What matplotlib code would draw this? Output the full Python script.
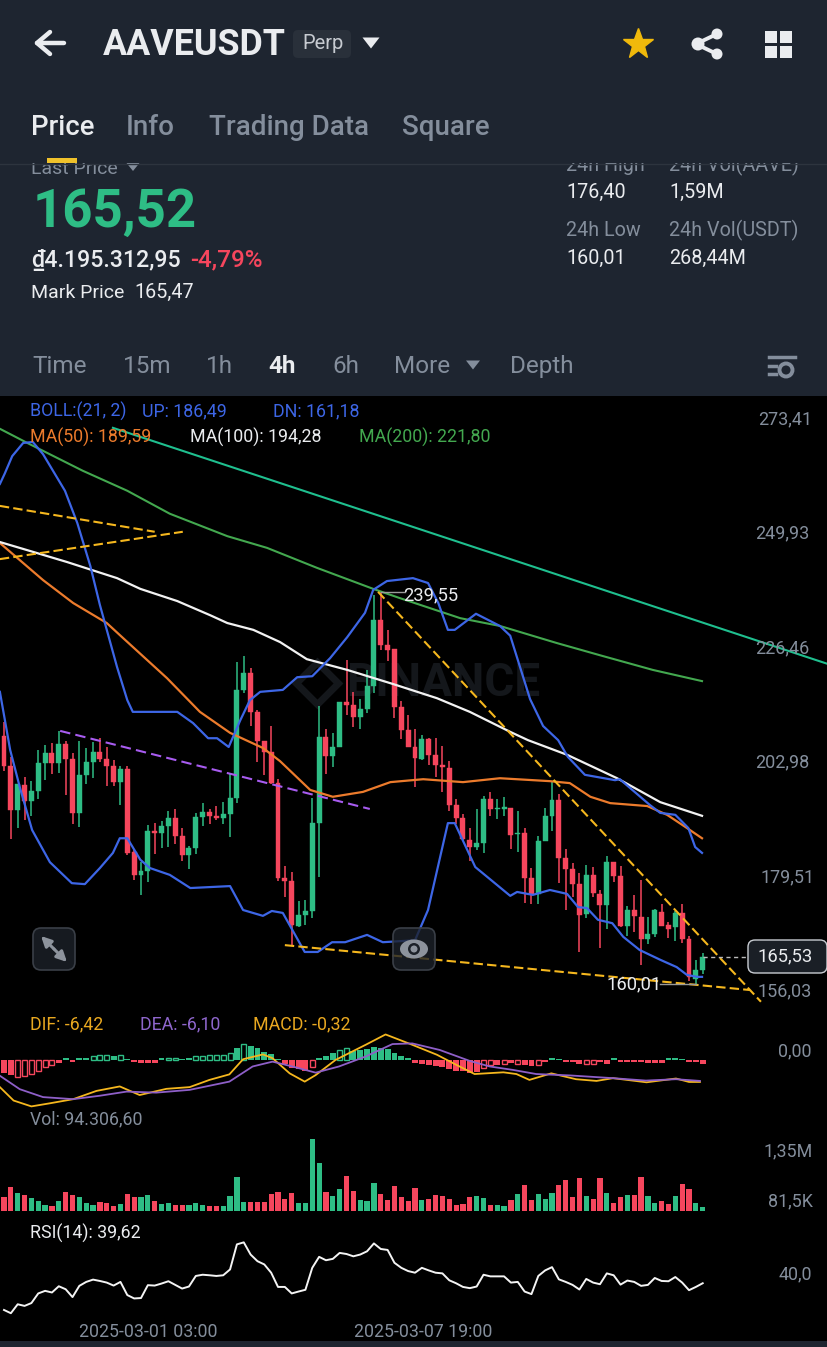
import matplotlib
matplotlib.use('Agg')
import matplotlib.pyplot as plt
import numpy as np
from matplotlib.patches import Rectangle, FancyBboxPatch, Circle, Ellipse, Polygon

plt.rcParams['font.family'] = ['Roboto', 'DejaVu Sans']

# candles, one per 4h
open_ = [208.5,202.4,193.3,198.5,195.2,197.2,203.0,205.0,202.9,206.9,203.7,192.7,200.4,203.2,205.2,203.7,202.3,199.1,201.7,184.7,
         180.0,180.7,188.9,188.5,190.0,191.6,187.9,184.1,185.6,191.8,192.9,192.1,191.7,192.4,195.7,217.8,221.3,213.3,207.5,205.2,
         198.9,179.3,178.7,169.5,171.7,172.6,190.7,208.2,204.4,206.1,215.4,214.8,212.3,214.0,218.7,232.2,227.1,226.2,214.4,209.7,
         206.3,203.7,207.8,204.6,202.5,201.9,194.4,191.7,187.1,185.8,186.6,195.5,193.5,193.5,193.6,188.3,188.5,179.4,176.0,187.0,
         192.0,195.3,183.5,181.1,178.2,171.9,179.9,176.1,173.8,182.6,179.8,169.6,172.7,171.4,166.8,167.8,172.4,169.7,169.3,172.1,
         166.8,158.6,160.5]
high = [211.3,204.2,198.6,200.1,199.2,205.6,206.7,207.0,209.5,207.5,204.9,207.5,206.0,207.2,208.0,206.2,203.5,202.4,202.4,185.4,
        182.7,190.3,190.7,191.1,193.1,193.5,189.7,186.0,192.7,194.8,193.4,194.1,195.0,200.8,223.7,224.8,222.4,213.8,207.5,210.5,
        199.6,181.8,180.5,174.7,174.8,195.7,214.7,209.8,209.1,215.5,224.1,217.4,216.0,221.9,237.3,238.0,230.2,226.2,215.6,212.8,
        209.9,208.6,208.0,208.1,206.5,203.3,195.5,192.4,189.5,193.4,196.1,197.0,195.5,195.9,193.6,193.1,189.5,181.4,187.9,193.8,
        199.3,196.5,185.4,182.5,180.4,182.1,181.6,176.9,183.8,182.6,181.9,173.6,175.8,178.9,171.4,173.0,174.0,170.4,172.6,174.1,
        167.4,162.6,163.9]
low = [201.3,187.3,189.5,191.2,192.0,195.5,199.4,200.7,200.8,196.3,190.5,189.9,198.7,199.9,203.2,198.3,198.2,194.4,184.1,178.9,
       175.9,178.5,184.3,185.6,185.8,186.4,182.8,181.1,184.3,190.1,190.4,191.2,190.5,187.8,194.8,217.2,210.5,203.2,200.4,198.6,
       178.8,175.4,165.6,169.4,169.7,171.1,179.5,200.6,202.0,206.1,212.7,210.3,209.9,213.2,217.3,226.1,223.8,212.2,207.8,206.1,
       198.0,203.5,202.5,200.0,197.0,193.0,190.5,187.1,182.8,185.1,184.4,192.1,191.4,192.0,185.4,184.7,174.3,174.1,174.1,186.9,
       189.0,178.4,172.9,175.5,164.2,171.2,175.4,165.1,168.9,178.6,169.4,167.4,168.3,161.5,165.8,167.2,169.6,167.1,166.5,166.1,
       158.2,157.7,159.7]
close = [202.4,193.3,198.6,195.2,197.1,203.0,205.0,202.9,206.9,203.7,192.7,200.4,203.2,205.2,203.7,202.4,199.1,201.7,184.5,180.0,
         180.7,189.0,188.5,190.0,191.6,187.9,184.1,185.6,191.8,192.8,192.1,191.6,192.4,195.7,217.8,221.3,213.4,207.5,205.2,198.9,
         179.3,178.8,169.7,171.7,172.6,190.7,208.2,204.4,206.1,215.5,214.8,212.3,214.0,218.7,232.2,227.1,226.1,214.4,209.7,206.3,
         203.9,207.8,204.6,202.5,202.0,194.4,191.6,187.3,185.8,186.6,195.5,193.5,193.8,194.0,188.1,188.5,179.4,176.0,187.0,192.0,
         195.3,183.5,181.2,178.2,171.7,179.9,176.2,173.8,182.6,179.8,169.5,172.7,171.5,166.8,167.8,172.7,169.6,169.0,172.1,166.8,
         159.0,160.5,163.2]

# volume in thousands
volume = [338,609,448,397,321,245,152,127,237,482,397,338,195,144,220,186,127,178,431,347,
          347,389,254,169,186,135,152,152,203,152,118,118,118,372,846,211,228,228,228,414,
          465,296,440,186,186,1818,1201,482,381,541,888,491,271,237,702,423,271,634,338,254,
          584,271,288,389,372,288,152,169,355,381,313,144,144,127,271,414,651,279,423,288,
          448,651,778,355,837,364,288,837,440,195,355,389,389,863,372,186,237,178,364,677,
          541,203,94.3]

macd_hist = [-3.9,-4.5,-5.0,-4.8,-4.1,-3.3,-2.1,-1.5,-1.0,0.7,-0.5,0.7,0.7,1.2,1.5,1.5,1.2,1.5,0.3,-0.5,
             -0.8,-1.0,-1.0,0.7,0.7,0.7,0.3,0.7,1.0,1.2,1.5,1.5,1.5,1.9,3.4,4.5,4.1,3.6,2.4,1.7,
             0.2,-1.2,-2.4,-2.7,-3.1,-2.1,0.7,1.2,1.9,2.9,3.4,2.7,2.9,3.1,3.9,3.4,3.1,2.1,1.0,0.5,
             -1.0,-1.1,-1.5,-1.9,-2.1,-2.6,-3.1,-3.3,-3.7,-3.5,-2.4,-1.6,-1.5,-1.2,-0.8,-1.3,-1.5,-1.9,-1.5,-0.7,
             0.7,0.3,-0.6,-0.7,-1.1,-1.1,-1.1,-0.7,-1.1,0.7,-0.7,-0.5,-0.5,-0.5,-1.0,-1.0,-1.0,0.7,0.7,0.3,
             -0.6,-0.7,-1.1]
hollow_bars = [2,3,4,5,6,7,13,14,15,17,24,25,28,29,30,31,32,33,35,45,49,50,70,71,73,75,78,85,86]

rsi = [19.9,17.5,24.1,22.9,25.0,32.1,34.0,32.8,37.4,35.2,29.4,37.7,40.6,42.3,41.3,40.1,37.9,40.6,30.9,28.4,
       28.7,38.2,37.9,39.4,41.1,38.4,35.7,37.2,45.0,45.9,45.5,45.0,45.5,49.8,68.3,69.8,60.8,55.9,53.5,47.4,
       36.9,36.9,32.1,33.5,34.8,51.0,59.1,56.6,57.6,62.0,61.2,59.5,60.8,63.2,69.0,64.9,64.2,54.7,51.0,48.6,
       47.4,51.0,49.1,47.4,46.9,41.8,39.6,36.9,36.0,37.2,45.9,44.7,44.7,44.7,40.1,40.6,33.5,31.6,45.0,49.1,
       51.5,42.5,40.6,38.4,35.0,42.8,40.1,38.9,46.9,45.5,38.6,41.6,40.6,37.7,38.4,43.5,41.3,41.1,44.2,40.1,
       34.5,36.9,39.62]

# indicator lines, read at the bends (candle index, value)
boll_up_x = [-0.6,0.1,1.2,2.8,4.2,5.7,8.9,10.7,12.6,14,16.5,18,18.8,21.3,25.3,27.6,29.8,31.1,32.8,34.5,35.9,37.4,40.7,42.8,45,47.6,50.1,52.7,53.9,55.9,59.7,61.9,63.4,64.8,65.8,68.9,72.4,73.9,76.8,78.7,80.9,82.3,84.8,89.2,89.9,94.3,95.8,98,99.9,100.9,101.9]
boll_up = [260.1,262.2,265.8,268.5,268.7,266.2,258.7,252.1,243.3,235.3,222.6,215.8,213.4,213.4,213.4,211.1,208.0,208.0,206.2,211.7,215.8,217.5,217.9,220.5,220.7,224.4,228.7,233.7,238.4,240.2,240.8,239.8,235.7,230.2,230.2,233.5,231.0,229.0,216.0,210.5,207.6,204.2,200.5,199.4,199.6,194.3,192.7,192.3,189.6,185.7,184.5]
boll_dn_x = [-0.6,0.9,2.3,4.1,6.7,9.9,11.8,14,15.9,16.9,18,19.9,21.3,24.2,27.2,30.1,33,34.9,37.8,39.1,40.7,43.9,45.8,47.9,49.8,53,55.3,60,61.9,64.8,65.8,68.8,73.9,74.9,77.2,79.7,82.2,83.8,85.1,86.7,88.8,90.4,92.8,95.8,98.2,99.7,101.2,101.9]
boll_dn = [217.5,205.6,198.0,189.2,182.6,178.3,178.1,181.4,184.5,187.5,187.5,183.1,181.4,180.0,177.3,177.5,177.7,172.8,171.6,172.6,172.2,164.2,164.2,166.2,166.2,167.7,166.2,166.6,172.8,190.6,190.6,181.6,175.7,176.5,175.9,176.9,176.1,173.4,173.2,170.8,170.1,167.3,164.6,162.6,161.1,159.5,159.1,159.1]
ma50_x = [-0.6,2.3,5.7,10.1,15,17.4,23.8,28.6,33,37.8,40.3,44.7,48,52.4,56.4,61.2,67,72.4,79.7,82.6,85.6,88.5,93.9,96.8,99.7,101.9]
ma50 = [248.0,244.5,240.4,235.7,231.6,228.5,220.3,213.4,209.1,206.0,203.3,197.4,196.0,197.0,199.0,199.6,199.0,199.8,199.2,198.8,196.0,194.7,194.1,192.3,189.6,187.5]
ma100_x = [-0.6,4.2,9.2,16.5,19.9,25.3,30.1,32.6,36.4,40.3,44.2,50.1,56.8,63.2,68,73.9,76.5,82.2,89.5,95.8,101.9]
ma100 = [248.2,246.2,244.1,240.8,238.6,236.1,233.2,231.6,230.2,227.7,224.2,222.0,219.1,216.2,213.4,209.3,207.6,204.6,199.8,194.9,192.1]
ma200_x = [-0.6,3.4,11.5,18,24.2,32.6,38.4,45.7,53.9,57.8,66.6,72.4,80.7,87,94.7,101.9]
ma200 = [271.4,268.5,262.8,258.7,254.0,249.4,247.0,242.9,238.6,236.7,232.6,231.0,227.5,225.0,222.0,219.7]
dif_x = [-0.6,1.4,4,6.7,10.1,13.5,16.9,19.8,23.7,27.1,30,32.9,34.9,37.8,39.2,41.7,43.9,45.5,48.4,52.8,55.7,59.6,63.2,66.1,68.7,72.9,74.8,76.7,79.9,83.5,86.5,88.9,93.8,98.1,100,101.6]
dif = [-7.9,-11.8,-13.5,-12.6,-11.4,-9.0,-7.7,-10.2,-8.4,-7.9,-5.8,-4.2,0.2,1.6,0.5,-3.9,-6.3,-4.4,0.0,4.4,7.4,4.4,1.5,-1.5,-4.1,-3.6,-4.1,-5.8,-3.9,-5.6,-6.1,-5.3,-6.5,-5.4,-6.4,-6.4]
dea_x = [-0.6,2.3,5.7,10.1,14,17.9,22.2,27.1,32.9,36.3,39.2,42.1,45.5,48.9,52.8,56.7,59.6,63.6,68,70.9,74.3,77.7,82.6,88.9,93.7,98.1,101.6]
dea = [-4.6,-8.5,-10.8,-11.4,-10.4,-9.2,-9.5,-8.7,-6.3,-1.9,-0.5,-1.9,-3.7,-1.9,1.0,4.6,4.8,2.9,-0.3,-1.9,-2.9,-4.1,-4.5,-5.3,-6.0,-5.6,-6.1]

# drawn trend lines (x0, x1), (y0, y1)
green_trend = ([15.9, 120.3], [271.6, 223.2])
yellow_a = ([-0.6, 22], [255.6, 250.3])
yellow_b = ([-0.6, 26.1], [244.7, 250.3])
yellow_c = ([54.6, 110.5], [238.0, 154.0])
yellow_d = ([41, 108.9], [165.6, 156.4])
purple_trend = ([8.2, 53.4], [209.5, 193.5])

price_ticks = [273.41, 249.93, 226.46, 202.98, 179.51, 156.03]
price_labels = ['273,41', '249,93', '226,46', '202,98', '179,51', '156,03']

BG = '#1E2530'
GREEN = '#2EBD85'
RED = '#F6465D'
GREY = '#848E9C'
WHITE = '#EAECEF'
BLUE = '#3D66E6'
ORANGE = '#EC7B2C'
MA200_C = '#43A84F'
YELLOW = '#F5B71E'
PURPLE = '#A85CF0'

W, H = 828, 1347
fig = plt.figure(figsize=(W / 100, H / 100), dpi=100, facecolor=BG)

# overlay in pixel coordinates for the app chrome and labels
ui = fig.add_axes([0, 0, 1, 1], zorder=5)
ui.set_xlim(0, W)
ui.set_ylim(H, 0)
ui.axis('off')
ui.patch.set_alpha(0)

under = fig.add_axes([0, 0, 1, 1], zorder=0)
under.set_xlim(0, W)
under.set_ylim(H, 0)
under.axis('off')
under.add_patch(Rectangle((0, 396), W, 945, fc='black', ec='none'))


def panel(top, bottom, y0, y1):
    a = fig.add_axes([0, 1 - bottom / H, 1, (bottom - top) / H], zorder=2)
    a.patch.set_alpha(0)
    a.axis('off')
    a.set_xlim(-0.584, 120.29)
    a.set_ylim(y0, y1)
    return a


colors = [GREEN if c >= o else RED for o, c in zip(open_, close)]
idx = np.arange(len(close))

# price panel
ax = panel(396, 1010, 152.31, 278.12)
ax.vlines(idx, low, high, colors=colors, lw=1.1, zorder=2)
bottoms = np.minimum(open_, close)
heights = np.abs(np.array(close) - np.array(open_))
ax.bar(idx, heights, bottom=bottoms, width=0.72, color=colors, ec=colors, lw=0.3, zorder=3)

ax.plot(boll_up_x, boll_up, color=BLUE, lw=1.6, zorder=5)
ax.plot(boll_dn_x, boll_dn, color=BLUE, lw=1.6, zorder=5)
ax.plot(ma50_x, ma50, color=ORANGE, lw=1.6, zorder=4)
ax.plot(ma100_x, ma100, color='#F2F2F2', lw=1.6, zorder=4)
ax.plot(ma200_x, ma200, color=MA200_C, lw=1.5, zorder=4)

ax.plot(*green_trend, color='#1FBF8F', lw=1.5, zorder=6)
for line in [yellow_a, yellow_b, yellow_c, yellow_d]:
    ax.plot(*line, color=YELLOW, lw=1.5, dashes=(4.5, 2), zorder=6)
ax.plot(*purple_trend, color=PURPLE, lw=1.5, dashes=(5, 2.5), zorder=6)

# high / low leaders and last price guide
ax.plot([55, 58.6], [high[55], high[55]], color='#9A9A9A', lw=1.0, zorder=6)
ax.plot([95.8, 101], [low[101], low[101]], color='#9A9A9A', lw=1.0, zorder=6)
ax.plot([102, 108.6], [close[-1], close[-1]], color='#BBBBBB', lw=1.0, dashes=(3, 2.5), zorder=6)

# watermark
ax.text(50.0, 219.3, 'BINANCE', color='#14171B', fontsize=33, fontweight='bold', va='center', ha='left', zorder=1)
ax.plot([45.7], [219.3], marker='D', ms=21, mfc='none', mec='#14171B', mew=5, zorder=1)

tick_x = [114, 113.6, 113.6, 113.6, 114.4, 114]
for x, v, lab in zip(tick_x, price_ticks, price_labels):
    ax.text(x, v, lab, color=GREY, fontsize=13, ha='center', va='center', zorder=7)

# macd panel
mc = panel(1020, 1115, -16.0, 11.6)
for i, v in enumerate(macd_hist):
    c = GREEN if v >= 0 else RED
    if i in hollow_bars:
        mc.bar(i, v, width=0.72, facecolor='none', edgecolor=c, lw=1.0, zorder=2)
    else:
        mc.bar(i, v, width=0.86, color=c, lw=0, zorder=2)
mc.plot(dif_x, dif, color=YELLOW, lw=1.3, zorder=3)
mc.plot(dea_x, dea, color='#8E5FC8', lw=1.3, zorder=4)

# volume panel
vol = panel(1130, 1210.7, 0, 2047)
vol.bar(idx, volume, width=0.76, color=colors, lw=0)

# rsi panel
rs = panel(1225, 1341, -3.0, 82.6)
rs.plot(idx, rsi, color='#F4F4F4', lw=1.4)


# chart labels
def t(x, y, s, color=WHITE, size=12, weight='normal', ha='left', z=10):
    ui.text(x, y + size * 0.13, s, color=color, fontsize=size, fontweight=weight, ha=ha, va='center', zorder=z)


def tri(x, y, w, h, color, z=10):
    ui.add_patch(Polygon([(x - w / 2, y - h / 2), (x + w / 2, y - h / 2), (x, y + h / 2)], fc=color, ec='none', zorder=z))


t(30, 410, 'BOLL:(21, 2)', BLUE, 12.8)
t(142, 410, 'UP: 186,49', BLUE, 12.8)
t(273, 410, 'DN: 161,18', BLUE, 12.8)
t(30, 436, 'MA(50): 189,59', ORANGE, 12.8)
t(190, 436, 'MA(100): 194,28', WHITE, 12.8)
t(359, 436, 'MA(200): 221,80', MA200_C, 12.8)
t(403, 594, '239,55', WHITE, 13.2)
t(607, 983, '160,01', WHITE, 13.2)
t(30, 1023, 'DIF: -6,42', '#E9A820', 12.8)
t(140, 1023, 'DEA: -6,10', '#8E66CC', 12.8)
t(253, 1023, 'MACD: -0,32', '#E9A820', 12.8)
t(812, 1050, '0,00', GREY, 12.9, ha='right')
t(30, 1118, 'Vol: 94.306,60', GREY, 12.8)
t(813, 1150, '1,35M', GREY, 12.9, ha='right')
t(813, 1200, '81,5K', GREY, 12.9, ha='right')
t(30, 1232, 'RSI(14): 39,62', WHITE, 12.8)
t(812, 1273, '40,0', GREY, 12.9, ha='right')
t(148, 1330, '2025-03-01 03:00', GREY, 12.8, ha='center')
t(423, 1330, '2025-03-07 19:00', GREY, 12.8, ha='center')

# last price tag
ui.add_patch(FancyBboxPatch((748, 940), 79, 33, boxstyle='round,pad=0,rounding_size=7', fc='#1A1F26', ec='#C8CCD2', lw=1.0, zorder=9))
t(785, 955, '165,53', WHITE, 13.2, ha='center')

# chart buttons
for bx in [33, 393]:
    ui.add_patch(FancyBboxPatch((bx, 928), 42, 42, boxstyle='round,pad=0,rounding_size=8', fc=(0.11, 0.13, 0.16, 0.8), ec='#3A3F47', lw=1.2, zorder=9))
ui.annotate('', xy=(41, 936), xytext=(54, 949), arrowprops=dict(arrowstyle='-|>', color='#8D939C', lw=2.2, mutation_scale=15, shrinkA=0, shrinkB=0), zorder=10)
ui.annotate('', xy=(67, 962), xytext=(54, 949), arrowprops=dict(arrowstyle='-|>', color='#8D939C', lw=2.2, mutation_scale=15, shrinkA=0, shrinkB=0), zorder=10)
ui.add_patch(Ellipse((414, 949), 28, 19, fc='#8D939C', ec='none', zorder=10))
ui.add_patch(Circle((414, 949), 6, fc='#1C2128', ec='none', zorder=11))
ui.add_patch(Circle((414, 949), 3.5, fc='#8D939C', ec='none', zorder=12))

# summary block, cut off by the fixed header
t(31, 167, 'Last Price', GREY, 14, z=1)
tri(133, 167, 13, 8, GREY, z=1)
t(566, 164, '24h High', GREY, 14.2, z=1)
t(669, 164, '24h Vol(AAVE)', GREY, 14.2, z=1)
ui.add_patch(Rectangle((0, 0), W, 163, fc=BG, ec='none', zorder=2))
ui.plot([0, W], [163.5, 163.5], color='#2D343E', lw=1, zorder=3)
ui.add_patch(Rectangle((47, 158), 30, 5, fc='#F0C22B', ec='none', zorder=4))

t(33, 207, '165,52', GREEN, 38, 'bold')
t(31, 258, '₫4.195.312,95', WHITE, 16.7, 500)
t(190, 258, '-4,79%', RED, 17.5, 500)
t(31, 291, 'Mark Price', WHITE, 14)
t(134, 291, '165,47', WHITE, 14.2)
t(566, 191, '176,40', WHITE, 14.2)
t(669, 191, '1,59M', WHITE, 14.2)
t(566, 229, '24h Low', GREY, 14.2)
t(669, 229, '24h Vol(USDT)', GREY, 14.2)
t(566, 257, '160,01', WHITE, 14.2)
t(669, 257, '268,44M', WHITE, 14.2)

# top bar
t(103, 42, 'AAVEUSDT', WHITE, 25.8, 'bold')
ui.add_patch(FancyBboxPatch((293, 30), 58, 28, boxstyle='round,pad=0,rounding_size=5', fc='#29303A', ec='none', zorder=6))
t(302, 42, 'Perp', '#C7CBD1', 14.5)
tri(371, 43, 17, 11, WHITE)
ui.plot([37, 64], [43, 43], color=WHITE, lw=3.2, zorder=10, solid_capstyle='round')
ui.plot([50, 37, 50], [32, 43, 54], color=WHITE, lw=3.2, zorder=10, solid_capstyle='round', solid_joinstyle='round')
ui.plot([638], [44], marker='*', ms=23, color='#F0B90B', mec='#F0B90B', zorder=10)
ui.plot([719, 696, 719], [33, 44, 55], color=WHITE, lw=2.8, zorder=10)
for sx, sy, r in [(717, 34, 5.5), (698, 44, 6.5), (717, 54, 5.5)]:
    ui.add_patch(Circle((sx, sy), r, fc=WHITE, ec='none', zorder=10))
for gx, gy in [(765, 31), (780, 31), (765, 46), (780, 46)]:
    ui.add_patch(Rectangle((gx, gy), 12, 12, fc=WHITE, ec='none', zorder=10))

# tabs
t(31, 125, 'Price', WHITE, 19.8, 500)
t(126, 125, 'Info', GREY, 20, 500)
t(209, 125, 'Trading Data', GREY, 20, 500)
t(402, 125, 'Square', GREY, 20, 500)

# interval row
for x, s in [(32, 'Time'), (123, '15m'), (206, '1h'), (332, '6h'), (394, 'More'), (510, 'Depth')]:
    t(x, 364, s, GREY, 17.5)
t(268, 364, '4h', WHITE, 17.5, 'bold')
tri(473, 365, 14, 9, GREY)
ui.plot([769, 795], [357, 357], color=GREY, lw=2.5, zorder=10)
ui.plot([769, 776], [366, 366], color=GREY, lw=2.5, zorder=10)
ui.plot([769, 776], [374, 374], color=GREY, lw=2.5, zorder=10)
ui.add_patch(Circle((786, 370), 6.5, fc='none', ec=GREY, lw=2.8, zorder=10))

fig.savefig('out.png', dpi=100, facecolor=BG)
